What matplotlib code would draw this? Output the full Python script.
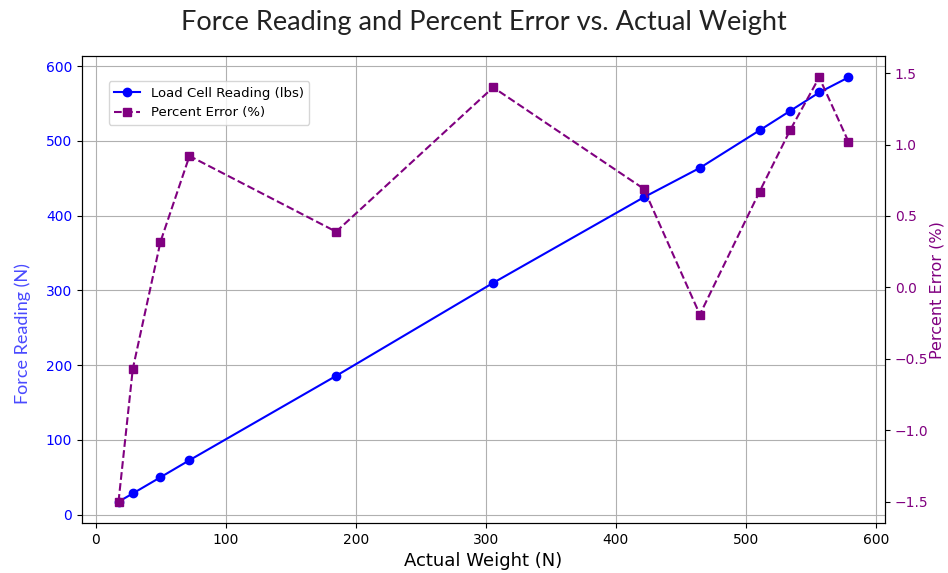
import numpy as np
import matplotlib
matplotlib.use("Agg")
import matplotlib.pyplot as plt

# ───────────────────────── Data ─────────────────────────
actual_weight_n = [17.4, 28.4, 49.7, 72.0, 184.8, 305.6, 421.5, 464.6, 510.5, 534.0, 556.4, 578.9]
force_reading_n = [17.1, 28.2, 49.9, 72.7, 185.5, 309.9, 424.4, 463.7, 513.9, 539.9, 564.6, 584.8]
percent_error = [-1.50, -0.57, 0.32, 0.92, 0.39, 1.40, 0.69, -0.19, 0.67, 1.10, 1.47, 1.02]

# ───────────────────────── Plot ─────────────────────────
fig, ax1 = plt.subplots(figsize=(9.48, 5.73), dpi=100)
fig.subplots_adjust(left=0.0865, right=0.9335, top=0.902, bottom=0.0873)

l1, = ax1.plot(actual_weight_n, force_reading_n, color="blue", marker="o",
               linestyle="-", label="Load Cell Reading (lbs)")
ax1.set_xlabel("Actual Weight (N)", fontsize=13)
ax1.set_ylabel("Force Reading (N)", color="#4a4aff", fontsize=13, family="Lato")
ax1.yaxis.set_label_coords(-0.063, 0.405)
ax1.tick_params(axis="y", labelcolor="blue")
ax1.grid(True)

ax2 = ax1.twinx()
l2, = ax2.plot(actual_weight_n, percent_error, color="purple", marker="s",
               linestyle="--", label="Percent Error (%)")
ax2.set_ylabel("Percent Error (%)", color="purple", fontsize=11.5)
ax2.yaxis.set_label_coords(1.055, 0.5)
ax2.tick_params(axis="y", labelcolor="purple")

ax2.legend(handles=[l1, l2], loc="upper left", bbox_to_anchor=(0.025, 0.96),
           fontsize=9.5)
ax1.set_title("Force Reading and Percent Error vs. Actual Weight", fontsize=19.5,
              family="Lato", color="#222222", pad=19)

fig.savefig("out.png", dpi=100)
